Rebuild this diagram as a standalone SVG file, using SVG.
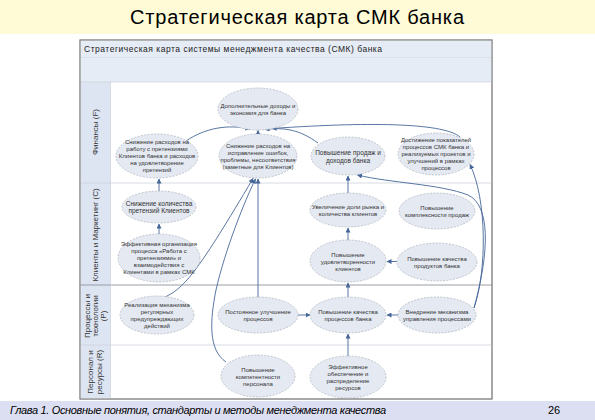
<svg xmlns="http://www.w3.org/2000/svg" width="595" height="420" viewBox="0 0 595 420">
<defs>
<style>
.nd{fill:#e4e9f2;stroke:#aab1bc;stroke-width:0.7;stroke-dasharray:2 1.3}
.t{font-family:"Liberation Sans",Arial,sans-serif;font-size:6px;fill:#333;text-anchor:middle}
.tb{font-family:"Liberation Sans",Arial,sans-serif;font-size:6.5px;fill:#333;text-anchor:middle}
.ln{font-family:"Liberation Sans",Arial,sans-serif;font-size:8px;fill:#333;text-anchor:middle}
.c{fill:none;stroke:#46669a;stroke-width:0.9;marker-end:url(#ah)}
</style>
<marker id="ah" viewBox="0 0 10 10" refX="9" refY="5" markerWidth="5" markerHeight="5" orient="auto" markerUnits="userSpaceOnUse">
<path d="M0,0 L10,5 L0,10 z" fill="#46669a"/>
</marker>
</defs>
<rect x="0" y="0" width="595" height="420" fill="#ffffff"/>
<rect x="0" y="0" width="595" height="34" fill="#fefbd6"/>
<text x="297" y="24" font-family="Liberation Sans,Arial,sans-serif" font-size="20" fill="#000" text-anchor="middle" textLength="334">Стратегическая карта СМК банка</text>

<g id="frame">
<rect x="80" y="40" width="412" height="359" fill="#ffffff" stroke="#8a8a8a" stroke-width="1"/>
<rect x="80.5" y="40.5" width="411" height="17" fill="#e6ecf6"/>
<line x1="80" y1="58" x2="492" y2="58" stroke="#b8bfca" stroke-width="0.7"/>
<rect x="80.5" y="58" width="411" height="24" fill="#e6ecf6"/>
<rect x="80.5" y="82" width="30" height="316.5" fill="#dde5f2"/>
<line x1="80" y1="82" x2="492" y2="82" stroke="#c8cdd6" stroke-width="0.6"/>
<line x1="80" y1="183" x2="492" y2="183" stroke="#cfd3da" stroke-width="0.8"/>
<line x1="80" y1="285" x2="492" y2="285" stroke="#9a9ea6" stroke-width="1.2"/>
<line x1="80" y1="345" x2="492" y2="345" stroke="#cfd3da" stroke-width="0.8"/>
<line x1="110.5" y1="82" x2="110.5" y2="399" stroke="#c8cdd6" stroke-width="0.6"/>
<rect x="80" y="40" width="412" height="359" fill="none" stroke="#8a8a8a" stroke-width="1"/>
<text x="84" y="51.5" font-family="Liberation Sans,Arial,sans-serif" font-size="8.5" fill="#222" textLength="298">Стратегическая карта системы менеджмента качества (СМК) банка</text>
<text class="ln" transform="translate(98,132) rotate(-90)">Финансы (F)</text>
<text class="ln" transform="translate(98,235) rotate(-90)">Клиенты и Маркетинг (C)</text>
<text class="ln" transform="translate(90,316) rotate(-90)">Процессы и</text>
<text class="ln" transform="translate(98,316) rotate(-90)">технологии</text>
<text class="ln" transform="translate(106,316) rotate(-90)">(P)</text>
<text class="ln" transform="translate(93,372) rotate(-90)">Персонал и</text>
<text class="ln" transform="translate(102,372) rotate(-90)">ресурсы (R)</text>
</g>

<g id="connectors">
<path class="c" d="M186,141 C205,128 228,124 250,129"/>
<path class="c" d="M258,135 L258,130.5"/>
<path class="c" d="M318,143 C300,130 285,127 265,129.5"/>
<path class="c" d="M460,137 C445,124 380,121 272,128.5"/>
<path class="c" d="M159,191 L159,179"/>
<path class="c" d="M159,234 L159,224"/>
<path class="c" d="M165,297 C185,288 200,268 253,178.5"/>
<path class="c" d="M226,362 C208,350 210,320 216,290 C225,250 245,200 255.5,179"/>
<path class="c" d="M258,297 L258,179"/>
<path class="c" d="M298,315 L310,315"/>
<path class="c" d="M398,315 L387,315"/>
<path class="c" d="M348,297 L348,283"/>
<path class="c" d="M348,356 L348,334"/>
<path class="c" d="M348,240 L348,228"/>
<path class="c" d="M348,193 L348,176"/>
<path class="c" d="M397,261.5 L387,261.5"/>
<path class="c" d="M474,308 C487,270 487,200 470,164.5"/>
<path class="c" d="M474,308 C490,250 490,205 468,195 C440,184 390,183 357.5,175"/>
</g>

<g id="n1"><ellipse class="nd" cx="258" cy="109" rx="40" ry="21"/>
<text class="t" x="258" y="108">Дополнительные доходы и</text><text class="t" x="258" y="115">экономия для банка</text></g>
<g id="n2"><ellipse class="nd" cx="157" cy="156" rx="41" ry="22"/>
<text class="t" x="157" y="144">Снижение расходов на</text><text class="t" x="157" y="151">работу с претензиями</text><text class="t" x="157" y="158">Клиентов банка и расходов</text><text class="t" x="157" y="165">на удовлетворение</text><text class="t" x="157" y="172">претензий</text></g>
<g id="n3"><ellipse class="nd" cx="258" cy="156" rx="39" ry="22"/>
<text class="t" x="258" y="147.5">Снижение расходов на</text><text class="t" x="258" y="154.5">исправление ошибок,</text><text class="t" x="258" y="161.5">проблемы, несоответствия</text><text class="t" x="258" y="168.5">(заметные для Клиентов)</text></g>
<g id="n4"><ellipse class="nd" cx="348" cy="156" rx="37" ry="19"/>
<text class="tb" x="348" y="155">Повышение продаж и</text><text class="tb" x="348" y="162.5">доходов банка</text></g>
<g id="n5"><ellipse class="nd" cx="436" cy="154" rx="38" ry="21"/>
<text class="t" x="436" y="142">Достижение показателей</text><text class="t" x="436" y="149">процессов СМК банка и</text><text class="t" x="436" y="156">реализуемых проектов и</text><text class="t" x="436" y="163">улучшений в рамках</text><text class="t" x="436" y="170">процессов</text></g>
<g id="n6"><ellipse class="nd" cx="159" cy="207" rx="37" ry="16"/>
<text class="tb" x="159" y="205.5">Снижение количества</text><text class="tb" x="159" y="213">претензий Клиентов</text></g>
<g id="n7"><ellipse class="nd" cx="159" cy="258" rx="41" ry="24"/>
<text class="t" x="159" y="246">Эффективная организация</text><text class="t" x="159" y="253">процесса «Работа с</text><text class="t" x="159" y="260">претензиями» и</text><text class="t" x="159" y="267">взаимодействия с</text><text class="t" x="159" y="274">Клиентами в рамках СМК</text></g>
<g id="n8"><ellipse class="nd" cx="348" cy="210" rx="38" ry="17"/>
<text class="t" x="348" y="209">Увеличение доли рынка и</text><text class="t" x="348" y="216">количества клиентов</text></g>
<g id="n9"><ellipse class="nd" cx="437" cy="211" rx="38" ry="18"/>
<text class="t" x="437" y="210">Повышение</text><text class="t" x="437" y="217">комплексности продаж</text></g>
<g id="n10"><ellipse class="nd" cx="348" cy="261" rx="38" ry="21"/>
<text class="t" x="348" y="256.5">Повышение</text><text class="t" x="348" y="263.5">удовлетворенности</text><text class="t" x="348" y="270.5">клиентов</text></g>
<g id="n11"><ellipse class="nd" cx="437" cy="262" rx="40" ry="19"/>
<text class="t" x="437" y="261">Повышение качества</text><text class="t" x="437" y="268">продуктов банка</text></g>
<g id="n12"><ellipse class="nd" cx="157" cy="315" rx="37" ry="19"/>
<text class="t" x="157" y="306.5">Реализация механизма</text><text class="t" x="157" y="313.5">регулярных</text><text class="t" x="157" y="320.5">предупреждающих</text><text class="t" x="157" y="327.5">действий</text></g>
<g id="n13"><ellipse class="nd" cx="258" cy="315" rx="40" ry="18"/>
<text class="t" x="258" y="314">Постоянное улучшение</text><text class="t" x="258" y="321">процессов</text></g>
<g id="n14"><ellipse class="nd" cx="348" cy="315" rx="38" ry="18"/>
<text class="t" x="348" y="314">Повышение качества</text><text class="t" x="348" y="321">процессов банка</text></g>
<g id="n15"><ellipse class="nd" cx="437" cy="315" rx="39" ry="18"/>
<text class="t" x="437" y="314">Внедрение механизма</text><text class="t" x="437" y="321">управления процессами</text></g>
<g id="n16"><ellipse class="nd" cx="258" cy="376" rx="37" ry="21"/>
<text class="t" x="258" y="371.5">Повышение</text><text class="t" x="258" y="378.5">компетентности</text><text class="t" x="258" y="385.5">персонала</text></g>
<g id="n17"><ellipse class="nd" cx="348" cy="377" rx="38" ry="21"/>
<text class="t" x="348" y="369">Эффективное</text><text class="t" x="348" y="376">обеспечение и</text><text class="t" x="348" y="383">распределение</text><text class="t" x="348" y="390">ресурсов</text></g>

<rect x="0" y="401" width="595" height="19" fill="#dcdff2"/>
<text x="10" y="414" font-family="Liberation Sans,Arial,sans-serif" font-size="11" font-style="italic" fill="#000" textLength="376">Глава 1. Основные понятия, стандарты  и методы менеджмента качества</text>
<text x="548" y="414" font-family="Liberation Sans,Arial,sans-serif" font-size="11" fill="#000">26</text>
</svg>
